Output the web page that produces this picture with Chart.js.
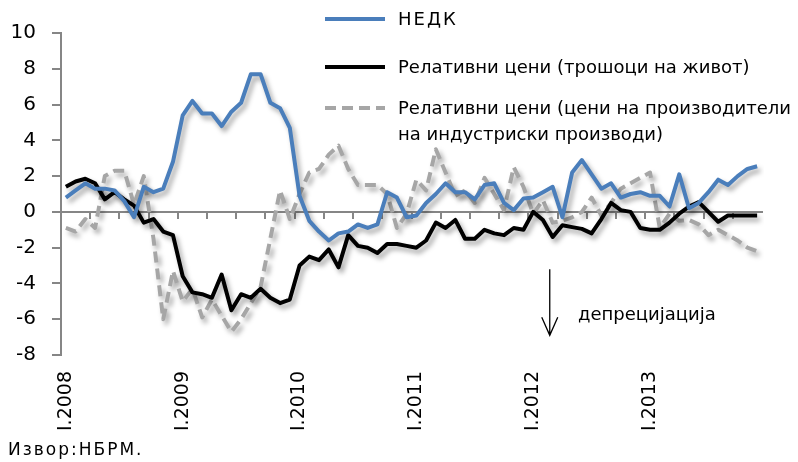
<!DOCTYPE html>
<html>
<head>
<meta charset="utf-8">
<script src="https://cdn.jsdelivr.net/npm/chart.js@4/dist/chart.umd.min.js"></script>
<style>
  body { margin: 0; background: #fff; }
  #wrap { position: relative; width: 798px; height: 462px; font-family: 'DejaVu Sans', sans-serif; color: #000; }
  #chart { position: absolute; left: 0; top: 0; }
  .leg { position: absolute; left: 325px; }
  .legText { position: absolute; left: 398px; font-size: 18px; line-height: 26px; white-space: nowrap; }
  #note { position: absolute; left: 578px; top: 301px; font-size: 18px; line-height: 26px; }
  #src { position: absolute; left: 8px; top: 438px; font-size: 17px; letter-spacing: 2px; line-height: 22px; }
</style>
</head>
<body>
<div id="wrap">
  <canvas id="chart" width="798" height="462"></canvas>
  <svg class="leg" style="top:13px" width="62" height="12"><line x1="0" y1="6" x2="60" y2="6" stroke="#4a7ebb" stroke-width="4"/></svg>
  <div class="legText" style="top:6px; letter-spacing:2px">НЕДК</div>
  <svg class="leg" style="top:61px" width="62" height="12"><line x1="0" y1="6" x2="60" y2="6" stroke="#000" stroke-width="4"/></svg>
  <div class="legText" style="top:54px">Релативни цени (трошоци на живот)</div>
  <svg class="leg" style="top:102px" width="62" height="12"><line x1="0" y1="6" x2="60" y2="6" stroke="#a6a6a6" stroke-width="4" stroke-dasharray="11 6"/></svg>
  <div class="legText" style="top:95px">Релативни цени (цени на производители<br>на индустриски производи)</div>
  <div id="note">депрецијација</div>
  <div id="src">Извор:НБРМ.</div>
</div>
<script>
'use strict';

let months = ['I', 'II', 'III', 'IV', 'V', 'VI', 'VII', 'VIII', 'IX', 'X', 'XI', 'XII'];
let years = [2008, 2009, 2010, 2011, 2012, 2013];

let nedk = [
  0.8, 1.2, 1.6, 1.3, 1.3, 1.2, 0.6, -0.3, 1.4, 1.1, 1.3, 2.8,
  5.4, 6.2, 5.5, 5.5, 4.8, 5.6, 6.1, 7.7, 7.7, 6.1, 5.8, 4.7,
  0.9, -0.5, -1.1, -1.6, -1.2, -1.1, -0.7, -0.9, -0.7, 1.1, 0.8, -0.3,
  -0.2, 0.5, 1.0, 1.6, 1.1, 1.1, 0.7, 1.5, 1.6, 0.5, 0.1, 0.75,
  0.8, 1.1, 1.4, -0.3, 2.2, 2.9, 2.1, 1.3, 1.6, 0.8, 1.0, 1.1,
  0.9, 0.9, 0.3, 2.1, 0.2, 0.5, 1.1, 1.8, 1.5, 2.0, 2.4, 2.55
];

let relLiving = [
  1.4, 1.7, 1.85, 1.6, 0.7, 1.1, 0.7, 0.35, -0.6, -0.4, -1.1, -1.3,
  -3.6, -4.5, -4.6, -4.8, -3.5, -5.5, -4.6, -4.8, -4.3, -4.8, -5.1, -4.9,
  -3.0, -2.5, -2.7, -2.1, -3.1, -1.3, -1.9, -2.0, -2.3, -1.8, -1.8, -1.9,
  -2.0, -1.6, -0.6, -0.9, -0.45, -1.5, -1.5, -1.0, -1.2, -1.3, -0.9, -1.0,
  0.0, -0.45, -1.4, -0.75, -0.85, -0.95, -1.2, -0.4, 0.5, 0.1, 0.0, -0.9,
  -1.0, -1.0, -0.6, -0.1, 0.3, 0.55, 0.0, -0.55, -0.2, -0.2, -0.2, -0.2
];

let relProducer = [
  -0.9, -1.1, -0.4, -0.9, 2.0, 2.3, 2.3, 0.4, 2.0, -1.5, -6.0, -3.3,
  -5.0, -4.3, -5.9, -4.9, -5.8, -6.7, -6.0, -5.1, -4.2, -1.5, 1.2, -0.4,
  1.0, 2.2, 2.4, 3.2, 3.7, 2.4, 1.5, 1.5, 1.5, 1.0, -0.9, -0.1,
  1.8, 1.2, 3.5, 2.2, 0.9, 1.2, 0.5, 1.9, 1.0, 0.1, 2.5, 1.4,
  -0.1, 0.65, -0.6, -0.5, -0.3, 0.0, 0.8, -0.2, 0.5, 1.3, 1.6, 1.9,
  2.2, -0.9, -0.1, -0.5, -0.45, -0.7, -1.3, -1.0, -1.3, -1.6, -2.0, -2.2
];

let labels = [];
for (let y = 0; y < years.length; y++) {
  for (let m = 0; m < months.length; m++) {
    labels.push(`${months[m]}.${years[y]}`);
  }
}

Chart.defaults.font.family = "'DejaVu Sans', sans-serif";
Chart.defaults.color = '#000';

let axisGray = '#868686';

// soft drop shadow under the lines, like the original
let shadowPlugin = {
  id: 'lineShadow',
  beforeDatasetsDraw(chart) {
    let ctx = chart.ctx;
    ctx.save();
    ctx.shadowColor = 'rgba(0, 0, 0, 0.35)';
    ctx.shadowBlur = 5;
    ctx.shadowOffsetX = 3;
    ctx.shadowOffsetY = 4;
  },
  afterDatasetsDraw(chart) {
    chart.ctx.restore();
  }
};

// "depreciation" arrow
let arrowPlugin = {
  id: 'arrow',
  afterDraw(chart) {
    let ctx = chart.ctx;
    let x = chart.scales.x.getPixelForValue(49.7);
    let top = chart.scales.y.getPixelForValue(-3.2);
    let bottom = chart.scales.y.getPixelForValue(-6.9);
    ctx.save();
    ctx.strokeStyle = '#000';
    ctx.lineWidth = 1.3;
    ctx.beginPath();
    ctx.moveTo(x, top);
    ctx.lineTo(x, bottom);
    ctx.moveTo(x - 8, bottom - 18);
    ctx.lineTo(x, bottom);
    ctx.lineTo(x + 8, bottom - 18);
    ctx.stroke();
    ctx.restore();
  }
};

let ctx = document.getElementById('chart').getContext('2d');

new Chart(ctx, {
  type: 'line',
  data: {
    labels: labels,
    datasets: [
      {
        label: 'НЕДК',
        data: nedk,
        borderColor: '#4a7ebb',
        borderWidth: 4,
        xAxisID: 'x',
        yAxisID: 'y'
      },
      {
        label: 'Релативни цени (трошоци на живот)',
        data: relLiving,
        borderColor: '#000',
        borderWidth: 4,
        xAxisID: 'x',
        yAxisID: 'y'
      },
      {
        label: 'Релативни цени (цени на производители на индустриски производи)',
        data: relProducer,
        borderColor: '#a6a6a6',
        borderWidth: 4,
        borderDash: [11, 6],
        xAxisID: 'x',
        yAxisID: 'y'
      }
    ]
  },
  options: {
    responsive: false,
    animation: false,
    layout: { padding: { top: 33, right: 36, left: 0, bottom: 0 } },
    elements: {
      point: { radius: 0 },
      line: { tension: 0, borderJoinStyle: 'round', borderCapStyle: 'butt', fill: false }
    },
    plugins: {
      legend: { display: false },
      tooltip: { enabled: false }
    },
    scales: {
      x: {
        type: 'category',
        position: { y: 0 },
        offset: true,
        grid: {
          offset: true,
          drawOnChartArea: false,
          drawTicks: true,
          tickLength: 6,
          lineWidth: 2,
          color: (c) => (c.index % 3 === 0 ? axisGray : 'rgba(0,0,0,0)')
        },
        border: { color: axisGray, width: 2 },
        ticks: { display: false },
        afterFit(s) { s.height = 0; }
      },
      xl: {
        type: 'category',
        position: 'bottom',
        offset: true,
        grid: { display: false },
        border: { display: false },
        ticks: {
          autoSkip: false,
          maxRotation: 90,
          minRotation: 90,
          padding: 8,
          font: { size: 19 },
          callback: (v, i) => (i % 12 === 0 ? labels[i] : '')
        },
        afterFit(s) { s.height = 107; }
      },
      y: {
        min: -8,
        max: 10,
        ticks: { stepSize: 2, padding: 16, font: { size: 20 } },
        grid: { drawOnChartArea: false, tickLength: 9, lineWidth: 2, color: axisGray },
        border: { color: axisGray, width: 2 },
        afterFit(s) { s.width = 61; }
      }
    }
  },
  plugins: [shadowPlugin, arrowPlugin]
});
</script>
</body>
</html>
